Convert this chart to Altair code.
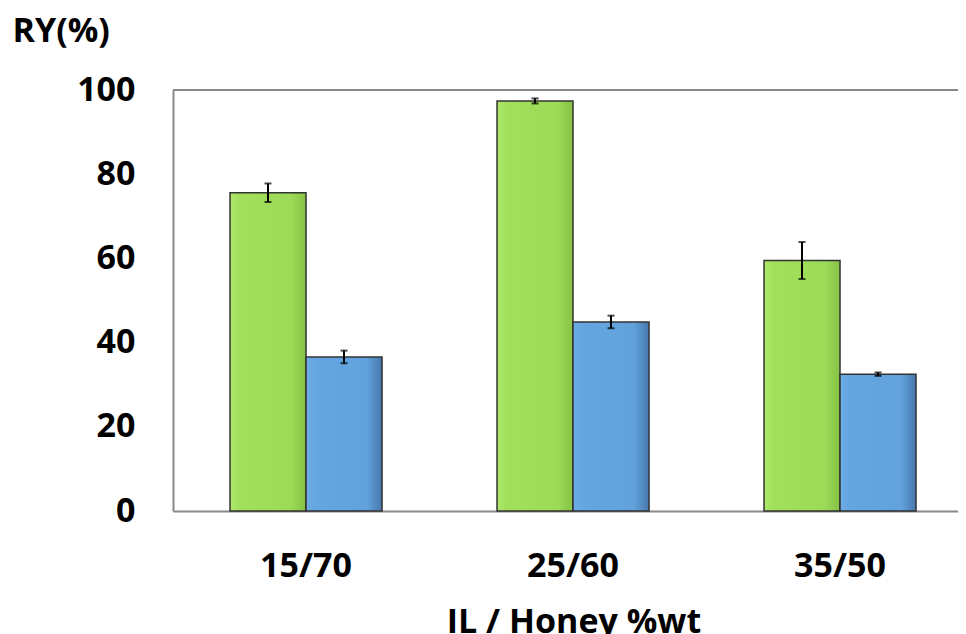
import altair as alt
import pandas as pd

categories = ["15/70", "25/60", "35/50"]
series_names = ["green", "blue"]
green_values = [75.6, 97.4, 59.5]
green_errors = [2.2, 0.6, 4.4]
blue_values = [36.6, 44.9, 32.5]
blue_errors = [1.5, 1.5, 0.4]
y_ticks = [0, 20, 40, 60, 80, 100]

rows = []
for name, vals, errs in (("green", green_values, green_errors), ("blue", blue_values, blue_errors)):
    for c, v, e in zip(categories, vals, errs):
        rows.append({"cat": c, "series": name, "value": v, "lo": v - e, "hi": v + e})
df = pd.DataFrame(rows)

FONT = "Open Sans"

x_enc = alt.X(
    "cat:N",
    sort=categories,
    scale=alt.Scale(paddingInner=0.4307, paddingOuter=0.1854, align=0.576),
    axis=alt.Axis(
        title="IL / Honey %wt",
        labelAngle=0,
        ticks=False,
        labelPadding=38,
        domainColor="#888888",
        domainWidth=2,
        titleX=400.5,
        titleY=121,
        titleAlign="center",
        titleBaseline="alphabetic",
    ),
)
xo_enc = alt.XOffset(
    "series:N",
    sort=series_names,
    scale=alt.Scale(domain=series_names, paddingInner=0, paddingOuter=0),
)
y_axis = alt.Axis(
    values=y_ticks,
    grid=False,
    ticks=False,
    labelPadding=38,
    title="RY(%)",
    titleAngle=0,
    titleX=-161,
    titleY=-49,
    titleAlign="left",
    titleBaseline="alphabetic",
    domainColor="#888888",
    domainWidth=2,
)
y_scale = alt.Scale(domain=[0, 100], nice=False)

green_grad = alt.Gradient(
    gradient="linear",
    stops=[
        alt.GradientStop(color="#aee86a", offset=0),
        alt.GradientStop(color="#a2e05c", offset=0.12),
        alt.GradientStop(color="#9cdb57", offset=0.8),
        alt.GradientStop(color="#86c244", offset=1),
    ],
    x1=0, x2=1, y1=0, y2=0,
)
blue_grad = alt.Gradient(
    gradient="linear",
    stops=[
        alt.GradientStop(color="#6eade6", offset=0),
        alt.GradientStop(color="#64a6e1", offset=0.12),
        alt.GradientStop(color="#61a2dd", offset=0.8),
        alt.GradientStop(color="#4778ab", offset=1),
    ],
    x1=0, x2=1, y1=0, y2=0,
)

base = alt.Chart(df)

green_bars = base.transform_filter(alt.datum.series == "green").mark_bar(
    fill=green_grad, stroke="#333333", strokeWidth=1.5
).encode(x=x_enc, xOffset=xo_enc, y=alt.Y("value:Q", scale=y_scale, axis=y_axis))

blue_bars = base.transform_filter(alt.datum.series == "blue").mark_bar(
    fill=blue_grad, stroke="#333333", strokeWidth=1.5
).encode(x=x_enc, xOffset=xo_enc, y=alt.Y("value:Q", scale=y_scale, axis=y_axis))

err_rule = base.mark_rule(color="black", strokeWidth=2).encode(
    x=x_enc, xOffset=xo_enc, y=alt.Y("lo:Q", scale=y_scale, axis=y_axis), y2="hi:Q"
)
err_lo = base.mark_tick(color="black", thickness=2, size=7).encode(
    x=x_enc, xOffset=xo_enc, y=alt.Y("lo:Q", scale=y_scale, axis=y_axis)
)
err_hi = base.mark_tick(color="black", thickness=2, size=7).encode(
    x=x_enc, xOffset=xo_enc, y=alt.Y("hi:Q", scale=y_scale, axis=y_axis)
)

top_line = alt.Chart(pd.DataFrame({"top": [100]})).mark_rule(
    color="#888888", strokeWidth=2
).encode(y=alt.Y("top:Q", scale=y_scale, axis=y_axis))

chart = (
    alt.layer(green_bars, blue_bars, err_rule, err_lo, err_hi, top_line)
    .properties(
        width=785,
        height=421,
        autosize=alt.AutoSizeParams(type="none"),
        padding={"left": 165, "top": 82, "right": 0, "bottom": 123},
    )
    .configure_view(stroke=None)
    .configure_axis(
        labelFont=FONT,
        labelFontSize=34,
        labelFontWeight="bold",
        labelColor="black",
        titleFont=FONT,
        titleFontSize=34,
        titleFontWeight="bold",
        titleColor="black",
    )
)

chart.save("out.html", embed_options={"renderer": "svg", "actions": False})
